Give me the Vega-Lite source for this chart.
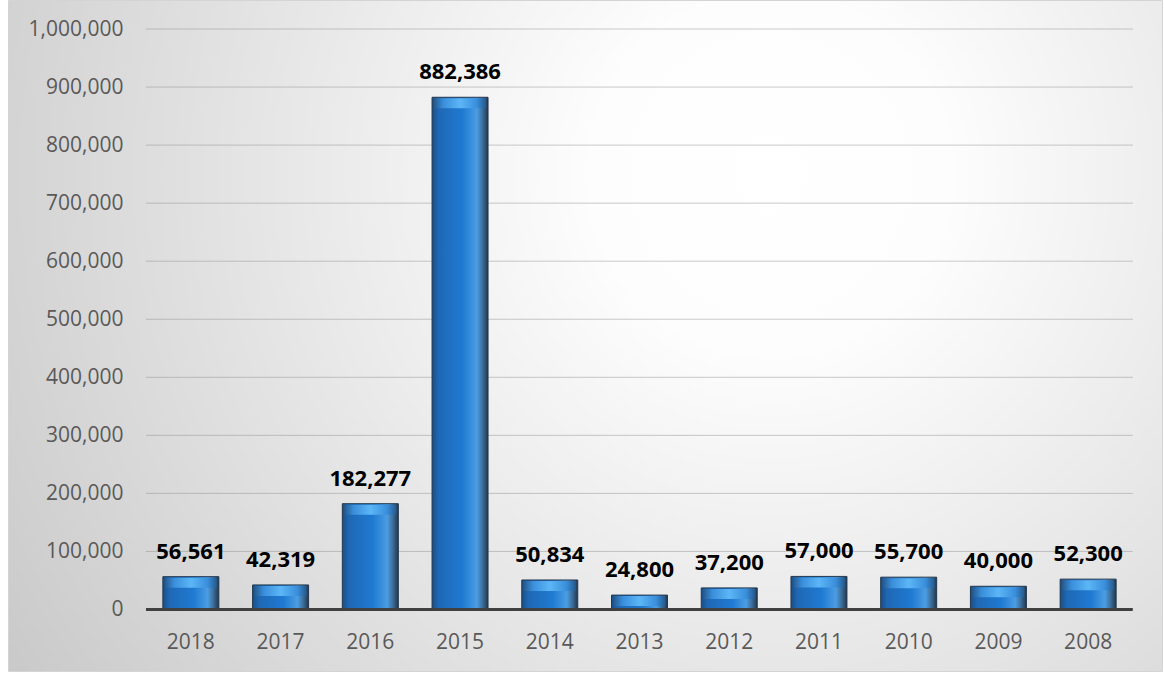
{
  "$schema": "https://vega.github.io/schema/vega-lite/v6.json",
  "width": 1154,
  "height": 671,
  "autosize": {"type": "none"},
  "padding": {"left": 8, "top": 0, "right": 2, "bottom": 3},
  "background": "white",
  "config": {
    "view": {
      "fill": {"gradient": "radial", "x1": 0.66, "y1": 0.36, "x2": 0.66, "y2": 0.36, "r1": 0, "r2": 0.85,
        "stops": [{"offset": 0, "color": "#ffffff"}, {"offset": 0.18, "color": "#fdfdfd"}, {"offset": 1, "color": "#c4c4c4"}]},
      "stroke": "#d4d4d4",
      "strokeWidth": 1
    },
    "axis": {"labelFont": "Open Sans", "labelFontSize": 21, "labelColor": "#595959", "domain": false, "ticks": false, "grid": false}
  },
  "datasets": {
    "bars": [
      {"year": "2018", "value": 56561},
      {"year": "2017", "value": 42319},
      {"year": "2016", "value": 182277},
      {"year": "2015", "value": 882386},
      {"year": "2014", "value": 50834},
      {"year": "2013", "value": 24800},
      {"year": "2012", "value": 37200},
      {"year": "2011", "value": 57000},
      {"year": "2010", "value": 55700},
      {"year": "2009", "value": 40000},
      {"year": "2008", "value": 52300}
    ],
    "grid": [
      {"g": 100000}, {"g": 200000}, {"g": 300000}, {"g": 400000}, {"g": 500000},
      {"g": 600000}, {"g": 700000}, {"g": 800000}, {"g": 900000}, {"g": 1000000}
    ],
    "base": [{"g": 0}]
  },
  "layer": [
    {
      "data": {"name": "grid"},
      "mark": {"type": "rule", "color": "#8c8c8c", "opacity": 0.45, "strokeWidth": 1},
      "encoding": {
        "y": {"field": "g", "type": "quantitative", "title": null,
          "axis": {"orient": "left", "offset": -125, "labelPadding": 10, "format": ",", "labelExpr": "format(datum.value, ',')",
            "values": [0, 100000, 200000, 300000, 400000, 500000, 600000, 700000, 800000, 900000, 1000000]}},
        "x": {"datum": "2018", "bandPosition": -0.302, "title": null,
          "axis": {"orient": "bottom", "offset": -61.5, "labelPadding": 22, "labelAngle": 0, "bandPosition": 0.5, "labelAlign": "center"}},
        "x2": {"datum": "2008", "bandPosition": 1.298}
      }
    },
    {
      "data": {"name": "bars"},
      "mark": {
        "type": "bar",
        "stroke": "#23374d",
        "strokeWidth": 1,
        "color": {"gradient": "linear", "x1": 0, "y1": 0, "x2": 1, "y2": 0,
          "stops": [
            {"offset": 0, "color": "#1a4f85"},
            {"offset": 0.12, "color": "#1f68b5"},
            {"offset": 0.55, "color": "#1f7ad2"},
            {"offset": 0.8, "color": "#4b9de3"},
            {"offset": 0.9, "color": "#3c6f9c"},
            {"offset": 1, "color": "#22364c"}
          ]}
      },
      "encoding": {
        "x": {
          "field": "year", "type": "nominal", "title": null,
          "scale": {"domain": ["2018", "2017", "2016", "2015", "2014", "2013", "2012", "2011", "2010", "2009", "2008"],
            "range": [138, 1125], "paddingInner": 0.376, "paddingOuter": 0.188},
          "axis": {"orient": "bottom", "offset": -61.5, "labelPadding": 22, "labelAngle": 0, "bandPosition": 0.5, "labelAlign": "center"}
        },
        "y": {
          "field": "value", "type": "quantitative", "title": null,
          "scale": {"domain": [-105943, 1049957], "nice": false, "zero": false},
          "axis": {"orient": "left", "offset": -125, "labelPadding": 10, "format": ",", "labelExpr": "format(datum.value, ',')",
            "values": [0, 100000, 200000, 300000, 400000, 500000, 600000, 700000, 800000, 900000, 1000000]}
        },
        "y2": {"datum": 0}
      }
    },
    {
      "data": {"name": "bars"},
      "mark": {
        "type": "tick", "thickness": 10, "size": 52, "yOffset": 6, "orient": "horizontal",
        "color": {"gradient": "linear", "x1": 0, "y1": 0, "x2": 1, "y2": 0,
          "stops": [
            {"offset": 0, "color": "#25598c"},
            {"offset": 0.18, "color": "#3a8fdc"},
            {"offset": 0.5, "color": "#5cb6f6"},
            {"offset": 0.82, "color": "#3a8fdc"},
            {"offset": 1, "color": "#25598c"}
          ]},
        "opacity": 1
      },
      "encoding": {
        "x": {"field": "year", "type": "nominal", "title": null,
          "axis": {"orient": "bottom", "offset": -61.5, "labelPadding": 22, "labelAngle": 0, "bandPosition": 0.5, "labelAlign": "center"}},
        "y": {"field": "value", "type": "quantitative", "title": null,
          "axis": {"orient": "left", "offset": -125, "labelPadding": 10, "format": ",", "labelExpr": "format(datum.value, ',')",
            "values": [0, 100000, 200000, 300000, 400000, 500000, 600000, 700000, 800000, 900000, 1000000]}}
      }
    },
    {
      "data": {"name": "base"},
      "mark": {"type": "rule", "color": "#404040", "strokeWidth": 3},
      "encoding": {
        "y": {"field": "g", "type": "quantitative", "title": null,
          "axis": {"orient": "left", "offset": -125, "labelPadding": 10, "format": ",", "labelExpr": "format(datum.value, ',')",
            "values": [0, 100000, 200000, 300000, 400000, 500000, 600000, 700000, 800000, 900000, 1000000]}},
        "x": {"datum": "2018", "bandPosition": -0.302, "title": null,
          "axis": {"orient": "bottom", "offset": -61.5, "labelPadding": 22, "labelAngle": 0, "bandPosition": 0.5, "labelAlign": "center"}},
        "x2": {"datum": "2008", "bandPosition": 1.298}
      }
    },
    {
      "data": {"name": "bars"},
      "mark": {"type": "text", "font": "Open Sans", "fontWeight": "bold", "fontSize": 22, "color": "#000000", "baseline": "alphabetic", "dy": -18},
      "encoding": {
        "x": {"field": "year", "type": "nominal", "title": null,
          "axis": {"orient": "bottom", "offset": -61.5, "labelPadding": 22, "labelAngle": 0, "bandPosition": 0.5, "labelAlign": "center"}},
        "y": {"field": "value", "type": "quantitative", "title": null,
          "axis": {"orient": "left", "offset": -125, "labelPadding": 10, "format": ",", "labelExpr": "format(datum.value, ',')",
            "values": [0, 100000, 200000, 300000, 400000, 500000, 600000, 700000, 800000, 900000, 1000000]}},
        "text": {"field": "value", "type": "quantitative", "format": ","}
      }
    }
  ]
}
